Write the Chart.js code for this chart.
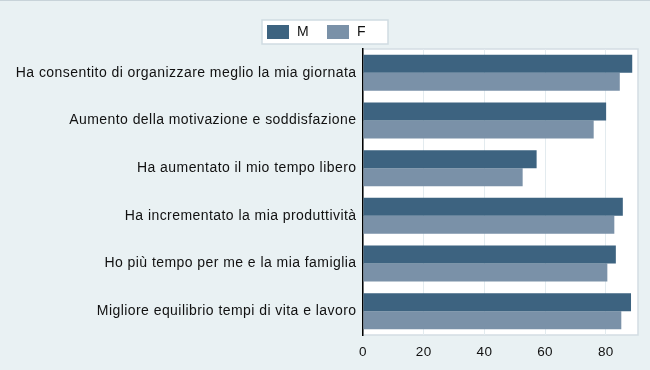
<!DOCTYPE html>
<html>
<head>
<meta charset="utf-8">
<script src="https://cdn.jsdelivr.net/npm/chart.js@4/dist/chart.umd.min.js"></script>
<style>
  html, body { margin: 0; padding: 0; background: #e9f1f3; }
  canvas { display: block; }
</style>
</head>
<body>
<canvas id="c" width="650" height="370"></canvas>
<script>
const categories = [
  "Ha consentito di organizzare meglio la mia giornata",
  "Aumento della motivazione e soddisfazione",
  "Ha aumentato il mio tempo libero",
  "Ha incrementato la mia produttività",
  "Ho più tempo per me e la mia famiglia",
  "Migliore equilibrio tempi di vita e lavoro"
];
const seriesNames = ["M", "F"];
const valuesM = [88.7, 80.1, 57.2, 85.6, 83.3, 88.3];
const valuesF = [84.6, 76.0, 52.6, 82.8, 80.5, 85.1];
const xTicks = [0, 20, 40, 60, 80];
const xMax = 90.6;

const colM = "#3d6380";
const colF = "#7a91a8";

const bgPlugin = {
  id: "bgPlugin",
  beforeDraw(chart) {
    const ctx = chart.ctx;
    ctx.save();
    ctx.fillStyle = "#e9f1f3";
    ctx.fillRect(0, 0, chart.width, chart.height);
    ctx.fillStyle = "#c8d3d9";
    ctx.fillRect(0, 0, chart.width, 1);
    const a = chart.chartArea;
    ctx.fillStyle = "#ffffff";
    ctx.fillRect(a.left, a.top, a.right - a.left, a.bottom - a.top);
    ctx.strokeStyle = "#d3dde3";
    ctx.lineWidth = 1.5;
    ctx.strokeRect(a.left, a.top, a.right - a.left, a.bottom - a.top);
    ctx.restore();
    ctx.letterSpacing = "0.44px";
  },
  beforeDatasetsDraw(chart) {
    chart.ctx.letterSpacing = "0px";
  },
  afterDraw(chart) {
    const ctx = chart.ctx;
    ctx.save();
    ctx.letterSpacing = "0px";
    // legend box
    ctx.fillStyle = "#ffffff";
    ctx.fillRect(262, 20, 126, 24);
    ctx.strokeStyle = "#d0dbe2";
    ctx.lineWidth = 1.5;
    ctx.strokeRect(262, 20, 126, 24);
    const ds = chart.data.datasets;
    const sx = [267, 327];
    const tx = [297, 357];
    ctx.font = "14px 'Liberation Sans', Arial, sans-serif";
    ctx.textBaseline = "middle";
    ctx.textAlign = "left";
    ds.forEach((d, i) => {
      ctx.fillStyle = d.backgroundColor;
      ctx.fillRect(sx[i], 25, 22, 14);
      ctx.fillStyle = "#111111";
      ctx.fillText(d.label, tx[i], 32.5);
    });
    ctx.restore();
  }
};

new Chart(document.getElementById("c"), {
  type: "bar",
  data: {
    labels: categories,
    datasets: [
      { label: seriesNames[0], data: valuesM, backgroundColor: colM },
      { label: seriesNames[1], data: valuesF, backgroundColor: colF }
    ]
  },
  options: {
    indexAxis: "y",
    responsive: false,
    animation: false,
    devicePixelRatio: 1,
    layout: { padding: { top: 49, right: 12, bottom: 0, left: 0 } },
    datasets: { bar: { categoryPercentage: 0.755, barPercentage: 1.0 } },
    plugins: {
      legend: { display: false },
      tooltip: { enabled: false }
    },
    scales: {
      x: {
        min: 0,
        max: xMax,
        afterBuildTicks(scale) { scale.ticks = xTicks.map(v => ({ value: v })); },
        afterFit(scale) { scale.height = 35; },
        grid: { color: "#e3ebef", lineWidth: 1, drawTicks: false },
        border: { display: false },
        ticks: {
          padding: 9,
          color: "#111111",
          font: { family: "'Liberation Sans', Arial, sans-serif", size: 13.5 }
        }
      },
      y: {
        afterFit(scale) { scale.width = 363; },
        grid: { display: false, drawTicks: false },
        border: { display: true, color: "#000000", width: 1.5 },
        ticks: {
          padding: 6.5,
          color: "#111111",
          font: { family: "'Liberation Sans', Arial, sans-serif", size: 14 }
        }
      }
    }
  },
  plugins: [bgPlugin]
});
</script>
</body>
</html>
